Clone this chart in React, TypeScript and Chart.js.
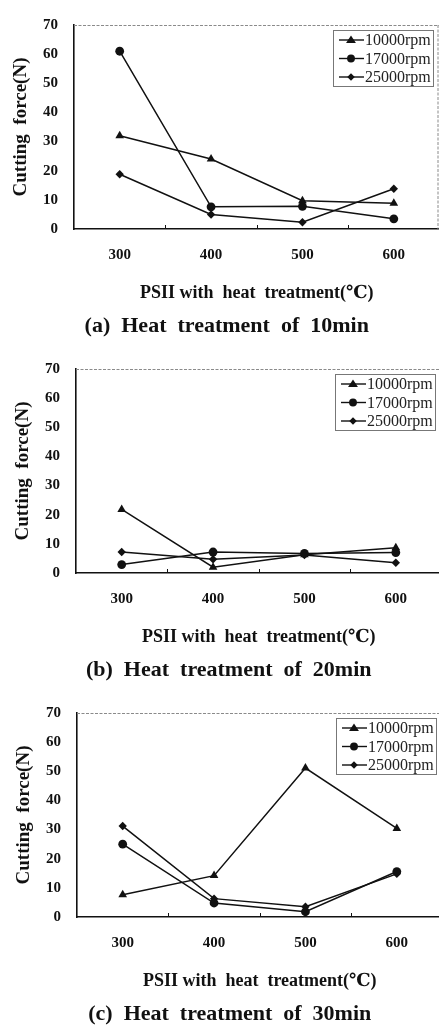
import React, { useEffect, useRef } from 'react';
import { Chart, registerables } from 'chart.js';

Chart.register(...registerables);

// ---- data ----
const temperatures = ['300', '400', '500', '600'];
const speedLabels = ['10000rpm', '17000rpm', '25000rpm'];
const yMin = 0;
const yMax = 70;
const yStep = 10;

const min10_rpm10000 = [32, 24, 9.7, 8.8];
const min10_rpm17000 = [61, 7.6, 7.8, 3.5];
const min10_rpm25000 = [18.8, 5, 2.3, 13.8];

const min20_rpm10000 = [21.8, 2.0, 6.3, 8.7];
const min20_rpm17000 = [2.9, 7.2, 6.7, 7.0];
const min20_rpm25000 = [7.2, 4.7, 6.2, 3.5];

const min30_rpm10000 = [7.6, 14.2, 51.1, 30.4];
const min30_rpm17000 = [25, 4.8, 1.8, 15.6];
const min30_rpm25000 = [31.2, 6.3, 3.5, 14.8];

const captions = [
  '(a)  Heat  treatment  of  10min',
  '(b)  Heat  treatment  of  20min',
  '(c)  Heat  treatment  of  30min',
];
const xAxisTitle = 'PSII with  heat  treatment(\u2103)';
const yAxisTitle = 'Cutting  force(N)';

const markerStyles = ['triangle', 'circle', 'rectRot'];
const markerRadii = [5, 4.4, 4.2];

const SERIF = "'Liberation Serif', 'Times New Roman', 'DejaVu Serif', serif";
const INK = '#111';

// ---- helpers ----
function drawMarker(ctx: CanvasRenderingContext2D, style: string, x: number, y: number, r: number) {
  ctx.beginPath();
  if (style === 'triangle') {
    const h = r * 1.5;
    ctx.moveTo(x, y - h * 0.66);
    ctx.lineTo(x + r * 1.1, y + h * 0.45);
    ctx.lineTo(x - r * 1.1, y + h * 0.45);
    ctx.closePath();
  } else if (style === 'circle') {
    ctx.arc(x, y, r, 0, Math.PI * 2);
  } else {
    ctx.moveTo(x, y - r);
    ctx.lineTo(x + r, y);
    ctx.lineTo(x, y + r);
    ctx.lineTo(x - r, y);
    ctx.closePath();
  }
  ctx.fill();
}

const framePlugin = {
  id: 'frameDecor',
  beforeDatasetsDraw(chart: any) {
    const { ctx, chartArea } = chart;
    const { left, right, top, bottom } = chartArea;
    ctx.save();
    ctx.strokeStyle = '#8a8a8a';
    ctx.lineWidth = 1;
    ctx.setLineDash([3, 1.5]);
    ctx.beginPath();
    ctx.moveTo(left, top + 0.5);
    ctx.lineTo(right, top + 0.5);
    ctx.moveTo(right - 1.5, top);
    ctx.lineTo(right - 1.5, bottom);
    ctx.stroke();
    ctx.setLineDash([]);
    // small inward tick marks at category boundaries
    const xs = chart.scales.x;
    ctx.strokeStyle = INK;
    ctx.lineWidth = 1;
    ctx.beginPath();
    for (let i = 1; i < temperatures.length; i++) {
      const px = (xs.getPixelForValue(i - 1) + xs.getPixelForValue(i)) / 2;
      ctx.moveTo(Math.round(px) + 0.5, bottom);
      ctx.lineTo(Math.round(px) + 0.5, bottom - 4);
    }
    ctx.stroke();
    ctx.restore();
  },
};

const boxLegendPlugin = {
  id: 'boxLegend',
  afterDraw(chart: any) {
    const { ctx, chartArea } = chart;
    const boxRight = chartArea.right - 6.5;
    const boxLeft = boxRight - 100;
    const boxTop = chartArea.top + 5;
    const boxBottom = chartArea.top + 61;
    ctx.save();
    ctx.fillStyle = '#fff';
    ctx.fillRect(boxLeft, boxTop, boxRight - boxLeft, boxBottom - boxTop);
    ctx.strokeStyle = '#777';
    ctx.lineWidth = 1;
    ctx.strokeRect(Math.round(boxLeft) + 0.5, Math.round(boxTop) + 0.5, boxRight - boxLeft, boxBottom - boxTop);
    const rows = [15, 33.5, 52];
    chart.data.datasets.forEach((ds: any, i: number) => {
      const y = chartArea.top + rows[i];
      ctx.strokeStyle = INK;
      ctx.lineWidth = 1.4;
      ctx.beginPath();
      ctx.moveTo(boxLeft + 6, y);
      ctx.lineTo(boxLeft + 31, y);
      ctx.stroke();
      ctx.fillStyle = INK;
      drawMarker(ctx, markerStyles[i], boxLeft + 18, y, markerRadii[i] * 0.9);
      ctx.fillStyle = '#222';
      ctx.font = `16px ${SERIF}`;
      ctx.textBaseline = 'middle';
      ctx.textAlign = 'left';
      ctx.fillText(ds.label, boxLeft + 32, y + 1);
    });
    ctx.restore();
  },
};

type PanelProps = { series: number[][]; caption: string; top: number; dx: number };

const CANVAS_W = 460;
const CANVAS_H = 344;

function Panel({ series, caption, top, dx }: PanelProps) {
  const ref = useRef<HTMLCanvasElement>(null);
  useEffect(() => {
    if (!ref.current) return;
    const chart = new Chart(ref.current, {
      type: 'line',
      data: {
        labels: temperatures,
        datasets: series.map((d, i) => ({
          label: speedLabels[i],
          data: d,
          borderColor: INK,
          backgroundColor: INK,
          borderWidth: 1.5,
          pointStyle: markerStyles[i] as any,
          pointRadius: markerRadii[i],
          pointBorderWidth: 0,
          pointBackgroundColor: INK,
          tension: 0,
          fill: false,
        })),
      },
      options: {
        responsive: false,
        animation: false,
        devicePixelRatio: 1,
        layout: { padding: { left: 14, right: CANVAS_W - 439.5, top: 13, bottom: 0 } },
        plugins: {
          legend: { display: false },
          tooltip: { enabled: false },
          title: {
            display: true,
            position: 'bottom',
            text: caption,
            color: INK,
            font: { family: SERIF, size: 22, weight: 'bold', lineHeight: 1.2 },
            padding: { top: 4, bottom: 4.6 },
          },
        },
        scales: {
          x: {
            type: 'category',
            offset: true,
            grid: { display: false, drawTicks: false },
            border: { display: true, color: INK, width: 1.6 },
            ticks: { color: INK, font: { family: SERIF, size: 15, weight: 'bold' }, padding: 17.5, maxRotation: 0 },
            title: {
              display: true,
              text: xAxisTitle,
              color: INK,
              font: { family: SERIF, size: 18, weight: 'bold', lineHeight: 1.2 },
              padding: { top: 0, bottom: 5.2 },
            },
            afterFit: (s: any) => { s.height = 80; },
          },
          y: {
            min: yMin,
            max: yMax,
            grid: { display: false, drawTicks: false },
            border: { display: true, color: INK, width: 1.6 },
            ticks: { stepSize: yStep, color: INK, font: { family: SERIF, size: 15, weight: 'bold' }, padding: 16 },
            title: {
              display: true,
              text: yAxisTitle,
              color: INK,
              font: { family: SERIF, size: 19, weight: 'bold', lineHeight: 1.0 },
              padding: { top: -2.5, bottom: 0 },
            },
            afterFit: (s: any) => { s.width = 60; },
          },
        },
      },
      plugins: [framePlugin, boxLegendPlugin],
    } as any);
    return () => chart.destroy();
  }, [series, caption]);
  return (
    <div style={{ position: 'absolute', top, left: dx, width: CANVAS_W, height: CANVAS_H }}>
      <canvas ref={ref} width={CANVAS_W} height={CANVAS_H} style={{ width: CANVAS_W, height: CANVAS_H, display: 'block' }} />
    </div>
  );
}

const panelSeries = [
  [min10_rpm10000, min10_rpm17000, min10_rpm25000],
  [min20_rpm10000, min20_rpm17000, min20_rpm25000],
  [min30_rpm10000, min30_rpm17000, min30_rpm25000],
];
const panelShifts = [0, 1.5, 3];

export default function App() {
  return (
    <div style={{ position: 'fixed', left: 0, top: 0, width: 439, height: 1029, overflow: 'hidden', background: '#fff' }}>
      {panelSeries.map((s, i) => (
        <Panel key={i} series={s} caption={captions[i]} top={i * 344} dx={panelShifts[i]} />
      ))}
    </div>
  );
}
